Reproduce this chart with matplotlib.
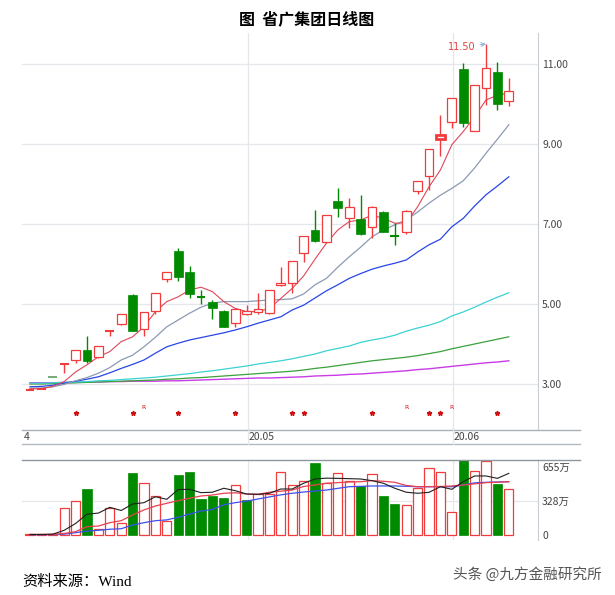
import numpy as np
import matplotlib
matplotlib.use('Agg')
from matplotlib import pyplot as plt
from matplotlib.lines import Line2D

plt.rcParams['font.family'] = ['Noto Sans CJK SC', 'DejaVu Sans']

# daily candles, 2020-04-03 .. 2020-06-08 (trading-day index)
opens = [2.86, 2.88, 3.18, 3.50, 3.60, 3.85, 3.68, 4.33, 4.50, 5.23, 4.37, 4.82, 5.62, 6.33, 5.80,
         5.17, 5.06, 4.82, 4.52, 4.75, 4.80, 4.77, 5.48, 5.53, 6.27, 6.85, 6.55, 7.58, 7.14, 7.13,
         6.92, 7.31, 6.69, 6.80, 7.83, 8.20, 9.12, 9.56, 10.87, 9.33, 10.39, 10.81, 10.08]
highs = [2.88, 2.90, 3.18, 3.50, 3.85, 4.20, 3.94, 4.33, 4.76, 5.24, 4.80, 5.28, 5.81, 6.39, 5.95,
         5.35, 5.10, 4.85, 4.88, 4.97, 5.28, 5.36, 5.92, 6.08, 6.69, 7.36, 7.23, 7.90, 7.64, 7.73,
         7.45, 7.32, 7.02, 7.35, 8.07, 8.88, 9.73, 10.15, 11.02, 10.48, 11.50, 11.06, 10.64]
lows = [2.85, 2.87, 3.18, 3.27, 3.52, 3.52, 3.65, 4.20, 4.48, 4.33, 4.20, 4.75, 5.56, 5.58, 5.15,
        5.00, 4.62, 4.42, 4.43, 4.72, 4.75, 4.75, 5.46, 5.27, 6.06, 6.55, 6.52, 7.18, 6.89, 6.72,
        6.64, 6.80, 6.48, 6.75, 7.75, 7.85, 8.70, 9.41, 9.42, 9.33, 9.98, 9.85, 9.95]
closes = [2.87, 2.89, 3.18, 3.50, 3.85, 3.58, 3.94, 4.33, 4.76, 4.33, 4.80, 5.28, 5.81, 5.68, 5.25,
          5.15, 4.89, 4.42, 4.87, 4.83, 4.87, 5.36, 5.53, 6.08, 6.69, 6.57, 7.23, 7.39, 7.43, 6.75,
          7.43, 6.81, 6.67, 7.33, 8.07, 8.88, 9.22, 10.14, 9.53, 10.48, 10.89, 10.00, 10.33]
# volume, 万股
volume = [5, 8, 12, 256, 329, 441, 55, 256, 112, 597, 496, 374, 137, 575, 607, 345, 377, 358, 479,
          336, 390, 390, 601, 479, 521, 687, 496, 591, 521, 470, 582, 374, 297, 288, 448, 639, 601,
          218, 740, 617, 709, 489, 438]

ma5 = [2.88, 2.88, 2.94, 3.06, 3.30, 3.48, 3.68, 3.81, 4.06, 4.18, 4.43, 4.81, 5.06, 5.18, 5.35,
       5.42, 5.31, 5.06, 4.89, 4.81, 4.81, 4.89, 5.14, 5.39, 5.70, 6.12, 6.52, 6.85, 7.06, 7.10,
       7.22, 7.14, 7.02, 7.03, 7.43, 7.93, 8.35, 8.98, 9.31, 9.68, 10.10, 10.22, 10.27]
ma10 = [2.90, 2.90, 2.93, 2.99, 3.08, 3.16, 3.27, 3.41, 3.60, 3.72, 3.93, 4.17, 4.43, 4.60, 4.77,
        4.92, 5.02, 5.06, 5.06, 5.06, 5.08, 5.10, 5.11, 5.13, 5.25, 5.48, 5.64, 5.92, 6.18, 6.42,
        6.68, 6.85, 6.98, 7.10, 7.30, 7.52, 7.72, 7.89, 8.08, 8.40, 8.77, 9.12, 9.48]
ma20 = [2.93, 2.94, 2.97, 3.02, 3.07, 3.12, 3.18, 3.28, 3.39, 3.49, 3.60, 3.77, 3.93, 4.02, 4.10,
        4.16, 4.22, 4.28, 4.35, 4.43, 4.52, 4.60, 4.68, 4.85, 4.97, 5.15, 5.33, 5.48, 5.64, 5.76,
        5.87, 5.95, 6.02, 6.10, 6.30, 6.48, 6.62, 6.93, 7.14, 7.45, 7.73, 7.95, 8.18]
ma60 = [3.02, 3.02, 3.03, 3.04, 3.05, 3.06, 3.08, 3.09, 3.11, 3.13, 3.15, 3.17, 3.20, 3.23, 3.26,
        3.30, 3.33, 3.37, 3.41, 3.45, 3.50, 3.54, 3.58, 3.63, 3.69, 3.75, 3.83, 3.89, 3.95, 4.04,
        4.10, 4.15, 4.22, 4.32, 4.40, 4.47, 4.56, 4.70, 4.80, 4.92, 5.05, 5.17, 5.28]
ma120 = [3.00, 3.00, 3.01, 3.02, 3.03, 3.04, 3.05, 3.06, 3.07, 3.08, 3.09, 3.10, 3.12, 3.13, 3.15,
         3.16, 3.18, 3.20, 3.22, 3.24, 3.26, 3.28, 3.30, 3.32, 3.35, 3.39, 3.42, 3.46, 3.50, 3.54,
         3.58, 3.61, 3.64, 3.67, 3.71, 3.76, 3.81, 3.88, 3.94, 4.00, 4.06, 4.12, 4.18]
ma250 = [3.03, 3.03, 3.03, 3.04, 3.04, 3.05, 3.05, 3.06, 3.06, 3.07, 3.07, 3.07, 3.08, 3.08, 3.09,
         3.10, 3.11, 3.12, 3.13, 3.14, 3.15, 3.15, 3.16, 3.17, 3.18, 3.20, 3.21, 3.22, 3.24, 3.25,
         3.27, 3.29, 3.31, 3.33, 3.36, 3.38, 3.41, 3.44, 3.47, 3.50, 3.53, 3.55, 3.58]

vma5 = [5, 5, 8, 45, 110, 200, 210, 265, 235, 297, 310, 367, 342, 436, 438, 406, 410, 448, 425, 393,
        390, 400, 441, 441, 496, 537, 545, 543, 540, 537, 521, 496, 448, 410, 400, 409, 463, 438,
        511, 566, 566, 543, 591]
vma10 = [5, 5, 6, 15, 32, 80, 86, 118, 137, 192, 240, 278, 304, 329, 352, 374, 383, 400, 405, 393,
         390, 410, 420, 431, 465, 480, 496, 502, 508, 511, 521, 515, 505, 475, 463, 463, 465, 470,
         479, 490, 502, 506, 511]
vma20 = [3, 3, 4, 8, 22, 38, 45, 55, 60, 96, 118, 137, 145, 170, 201, 230, 245, 290, 310, 325, 345,
         365, 385, 400, 412, 422, 431, 447, 463, 466, 470, 470, 470, 467, 463, 463, 463, 463, 480,
         500, 505, 508, 511]

star_idx = [4, 9, 13, 18, 23, 24, 30, 35, 36, 41]
r_idx = [10, 33, 37]
month_idx = [19, 37]
month_lbl = ['20.05', '20.06']
price_ticks = [3, 5, 7, 9, 11]
vol_ticks = [0, 328, 655]
vol_lbl = ['0', '328万', '655万']

RED = '#f03c3c'
GREEN = '#008a00'
GRID = '#e4e7eb'
W, H = 615, 595

fig = plt.figure(figsize=(6.15, 5.95), dpi=100)
ax = fig.add_axes([22 / W, 1 - 430 / H, 516 / W, 397 / H])
axv = fig.add_axes([22 / W, 1 - 540 / H, 516 / W, 80 / H])

n = len(closes)
x = np.arange(n)
for a in (ax, axv):
    a.set_xlim(-0.7, 44.56)
    for s in ('top', 'left', 'bottom'):
        a.spines[s].set_visible(False)
    a.spines['right'].set_color('#c9ced4')
    a.yaxis.tick_right()
    a.tick_params(axis='y', length=0, pad=3, labelsize=7.5, labelcolor='#444444')
    a.set_xticks([])
    for m in month_idx:
        a.axvline(m + 0.1, color=GRID, lw=0.9, zorder=0)

ax.set_ylim(1.85, 11.775)
ax.set_yticks(price_ticks)
ax.set_yticklabels(['%.2f' % t for t in price_ticks])
for t in price_ticks:
    ax.axhline(t, color=GRID, lw=0.9, zorder=0)

# moving averages
ax.plot(x, ma250, color='#c83ce6', lw=1.0, zorder=2)
ax.plot(x, ma120, color='#3ca03c', lw=0.9, zorder=2)
ax.plot(x, ma60, color='#3cd2d2', lw=0.9, zorder=2)
ax.plot(x, ma20, color='#2846e6', lw=0.9, zorder=2)
ax.plot(x, ma10, color='#8c9ab4', lw=0.9, zorder=2)
ax.plot(x, ma5, color='#e0465a', lw=0.8, zorder=2)

bw = 0.76
for i in range(n):
    o, h, l, c = opens[i], highs[i], lows[i], closes[i]
    if h == l:  # one-price limit up
        ax.hlines(c, i - bw / 2, i + bw / 2, color='#5f9a5f', lw=1.2, zorder=4)
        continue
    up = c >= o
    col = RED if up else GREEN
    ax.vlines(i, l, h, color=col, lw=1.0, zorder=3)
    if abs(c - o) < 0.04:
        ax.hlines(o, i - bw / 2, i + bw / 2, color=col, lw=1.5, zorder=4)
    elif up:
        lw = 2.0 if i == 36 else 0.9
        ax.bar(i, c - o, bottom=o, width=bw, facecolor='white', edgecolor=col, lw=lw, zorder=4)
    else:
        ax.bar(i, o - c, bottom=c, width=bw, facecolor=col, edgecolor=col, lw=0.5, zorder=4)

ax.plot(star_idx, [2.275] * len(star_idx), ls='none', marker='*', ms=3.5, color='#d01010')
for i in r_idx:
    ax.text(i, 2.41, 'R', fontsize=4.5, color='#d01010', ha='center', va='center',
            family='DejaVu Sans')

ax.annotate('11.50', xy=(40, 11.5), xytext=(37.9, 11.43), fontsize=7, color='#e04040',
            ha='center', va='center', family='DejaVu Sans',
            arrowprops=dict(arrowstyle='->', color='#8fb0d0', lw=0.7, shrinkA=1, shrinkB=0))

# volume
vcol = [RED if i == 0 or closes[i] >= closes[i - 1] else GREEN for i in range(n)]
for i in range(n):
    if vcol[i] == RED:
        axv.bar(i, volume[i], width=0.8, facecolor='white', edgecolor=RED, lw=0.9, zorder=3)
    else:
        axv.bar(i, volume[i], width=0.8, facecolor=GREEN, edgecolor=GREEN, lw=0.5, zorder=3)
axv.plot(x, vma20, color='#3c50f0', lw=0.9, zorder=4)
axv.plot(x, vma10, color='#e84050', lw=0.9, zorder=4)
axv.plot(x, vma5, color='#202020', lw=0.8, zorder=4)
axv.set_ylim(-48, 719)
axv.set_yticks(vol_ticks)
axv.set_yticklabels(vol_lbl)
axv.axhline(328, color=GRID, lw=0.9, zorder=0)

# frame lines of the date strip and volume panel
for yy, c in ((430, '#a9b0b8'), (444, '#b4bac1'), (460, '#8e969f')):
    fig.add_artist(Line2D([22 / W, 580 / W], [1 - yy / H] * 2, color=c, lw=1.0))
for m, lbl in zip(month_idx, month_lbl):
    xp = (30 + 11.4 * m + 2) / W
    fig.text(xp, 1 - 437 / H, lbl, fontsize=7.5, color='#444444', va='center', ha='left')
    fig.add_artist(Line2D([(30 + 11.4 * (m + 0.1)) / W] * 2, [1 - 430 / H, 1 - 444 / H],
                          color=GRID, lw=0.9))
fig.text(24 / W, 1 - 437 / H, '4', fontsize=7.5, color='#444444', va='center', ha='left')

fig.text(307 / W, 1 - 19 / H, '图  省广集团日线图', fontsize=11.5, fontweight='bold',
         ha='center', va='center', color='black')
fig.text(22 / W, 1 - 582 / H, '资料来源：Wind', fontsize=11, ha='left', va='center',
         family=['Liberation Serif', 'Noto Sans CJK SC'], color='black')
fig.text(602 / W, 1 - 574 / H, '头条 @九方金融研究所', fontsize=10.5, ha='right', va='center',
         color='#555555')

fig.savefig('out.png', dpi=100)
